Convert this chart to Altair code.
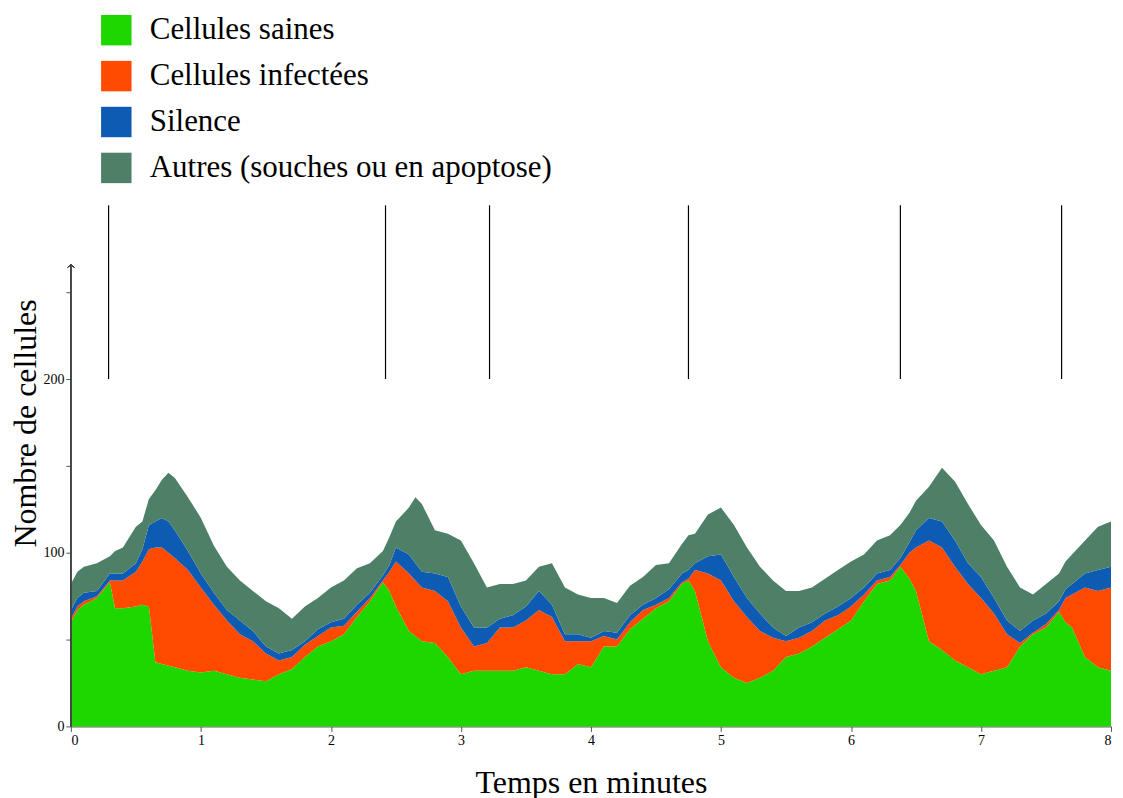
import altair as alt
import pandas as pd

# ---- data (minutes, number of cells per category) ----
temps = [0.0, 0.05, 0.1, 0.2, 0.3, 0.34, 0.4, 0.5, 0.55, 0.6, 0.65, 0.7, 0.75, 0.8, 0.9,
         1.0, 1.1, 1.2, 1.3, 1.4, 1.5, 1.6, 1.7, 1.8, 1.9, 2.0, 2.1, 2.2, 2.3, 2.4, 2.45,
         2.5, 2.6, 2.65, 2.7, 2.8, 2.9, 3.0, 3.1, 3.2, 3.3, 3.4, 3.5, 3.6, 3.7, 3.8, 3.9, 4.0,
         4.1, 4.2, 4.3, 4.4, 4.5, 4.6, 4.7, 4.75, 4.8, 4.9, 5.0, 5.1, 5.2, 5.3, 5.4, 5.5,
         5.6, 5.7, 5.8, 5.9, 6.0, 6.1, 6.2, 6.3, 6.38, 6.45, 6.5, 6.6, 6.7, 6.8, 6.9, 7.0,
         7.1, 7.2, 7.3, 7.4, 7.5, 7.6, 7.65, 7.7, 7.8, 7.9, 8.0]
sains = [60, 67, 70, 74, 83, 68, 68, 69, 70, 69, 37, 36, 35, 34, 32,
         31, 32, 30, 28, 27, 26, 30, 33, 40, 46, 49, 53, 63, 72, 83, 78,
         69, 55, 52, 49, 48, 40, 30, 32, 32, 32, 32, 34, 32, 30, 30, 36, 34,
         46, 46, 56, 62, 68, 72, 82, 84, 78, 49, 34, 28, 25, 28, 32, 40,
         42, 46, 51, 56, 61, 72, 82, 84, 92, 85, 78, 49, 44, 38, 34, 30,
         32, 34, 46, 53, 57, 66, 60, 57, 40, 34, 32]
infectees = [2, 2, 2, 1, 1, 16, 16, 20, 25, 33, 66, 67, 65, 63, 58,
             49, 38, 31, 25, 22, 16, 8, 7, 7, 6, 8, 5, 3, 2, 1, 11,
             26, 33, 32, 31, 30, 32, 27, 14, 16, 25, 25, 27, 35, 33, 19, 13, 15,
             6, 4, 4, 5, 2, 2, 1, 1, 12, 39, 50, 44, 38, 27, 19, 9,
             9, 9, 10, 8, 8, 4, 2, 2, 1, 15, 25, 58, 59, 54, 48, 44,
             33, 19, 2, 1, 2, 1, 14, 19, 40, 44, 48]
silence = [5, 5, 5, 3, 4, 4, 4, 5, 7, 14, 15, 17, 18, 16, 11,
           8, 7, 6, 8, 6, 4, 4, 4, 2, 4, 3, 4, 4, 3, 3, 4,
           8, 11, 10, 9, 10, 14, 12, 11, 9, 5, 7, 8, 11, 7, 4, 4, 2,
           3, 4, 4, 3, 4, 5, 5, 5, 4, 10, 15, 14, 11, 10, 6, 3,
           6, 5, 4, 5, 5, 4, 4, 4, 4, 6, 10, 13, 15, 15, 12, 12,
           9, 8, 7, 7, 6, 5, 5, 6, 8, 12, 12]
autres = [15, 15, 15, 16, 10, 13, 15, 21, 16, 15, 18, 22, 28, 30, 31,
          32, 27, 25, 23, 23, 26, 26, 18, 20, 18, 20, 22, 21, 17, 14, 16,
          15, 27, 38, 39, 25, 25, 38, 37, 23, 20, 18, 15, 14, 24, 27, 23, 23,
          19, 17, 17, 16, 19, 15, 17, 20, 17, 24, 27, 30, 29, 27, 27, 26,
          21, 20, 20, 21, 21, 19, 19, 20, 19, 17, 17, 18, 31, 34, 34, 30,
          33, 31, 25, 15, 17, 16, 16, 17, 19, 25, 26]

series_names = ["Cellules saines", "Cellules infectées", "Silence",
                "Autres (souches ou en apoptose)"]
series_colors = ["#1ed700", "#ff4a00", "#0d5bb2", "#4e8067"]

# moments marked by the vertical black lines (minutes)
marker_times = [0.29, 2.42, 3.22, 4.75, 6.38, 7.62]

x_ticks = [0, 1, 2, 3, 4, 5, 6, 7, 8]
y_ticks = [0, 50, 100, 150, 200, 250]

# ---- build the long table ----
rows = []
for i, t in enumerate(temps):
    for k, (name, vals) in enumerate(zip(series_names, [sains, infectees, silence, autres])):
        rows.append({"t": t, "serie": name, "n": vals[i], "ordre": k})
df = pd.DataFrame(rows)
df_marks = pd.DataFrame({"t": marker_times})

FONT = "Liberation Serif"
xscale = alt.Scale(domain=[0, 8], nice=False, zero=False)
yscale = alt.Scale(domain=[0, 300], nice=False)

area = alt.Chart(df).mark_area(interpolate="linear").encode(
    x=alt.X("t:Q", scale=xscale,
            axis=alt.Axis(values=x_ticks, title="Temps en minutes", titleY=66,
                          titleBaseline="alphabetic", tickSize=5, labelPadding=2,
                          format="d")),
    y=alt.Y("n:Q", stack="zero", scale=yscale,
            axis=alt.Axis(values=y_ticks, domain=False,
                          labelExpr="datum.value % 100 === 0 ? datum.label : ''",
                          title="Nombre de cellules", titleX=-35, titleY=218,
                          titleAngle=270, titleAlign="center",
                          titleBaseline="alphabetic", tickSize=5, labelPadding=2)),
    color=alt.Color("serie:N",
                    scale=alt.Scale(domain=series_names, range=series_colors),
                    legend=alt.Legend(orient="none", legendX=30, legendY=-191,
                                      title=None, symbolType="square", symbolSize=930,
                                      symbolStrokeWidth=0, symbolOpacity=1,
                                      labelFont=FONT, labelFontSize=31,
                                      labelColor="black", labelOffset=18,
                                      rowPadding=14, labelLimit=0)),
    order=alt.Order("ordre:Q"),
)

marks = alt.Chart(df_marks).mark_rule(color="black", strokeWidth=1.2).encode(
    x=alt.X("t:Q", scale=xscale),
    y=alt.datum(200),
    y2=alt.datum(300),
)

y_line = alt.Chart(df_marks).mark_rule(color="#444", strokeWidth=1).encode(
    x=alt.datum(0),
    y=alt.datum(0),
    y2=alt.datum(266),
)

y_arrow = alt.Chart(df_marks).mark_point(
    shape="M-1,1L0,0L1,1", filled=False, color="#444", size=36, strokeWidth=1, opacity=1
).encode(
    x=alt.datum(0),
    y=alt.datum(266),
)

chart = alt.layer(area, marks, y_line, y_arrow).properties(
    width=1042, height=522,
    autosize=alt.AutoSizeParams(type="none"),
    padding={"left": 63, "top": 197, "right": 4, "bottom": 75},
).configure_view(stroke=None).configure_axis(
    grid=False, labelFont=FONT, labelFontSize=14, labelColor="black",
    titleFont=FONT, titleFontSize=32, titleFontWeight="normal", titleColor="black",
    tickColor="#555", domainColor="#444",
)

chart.save("out.html", embed_options={"renderer": "svg", "actions": False})
